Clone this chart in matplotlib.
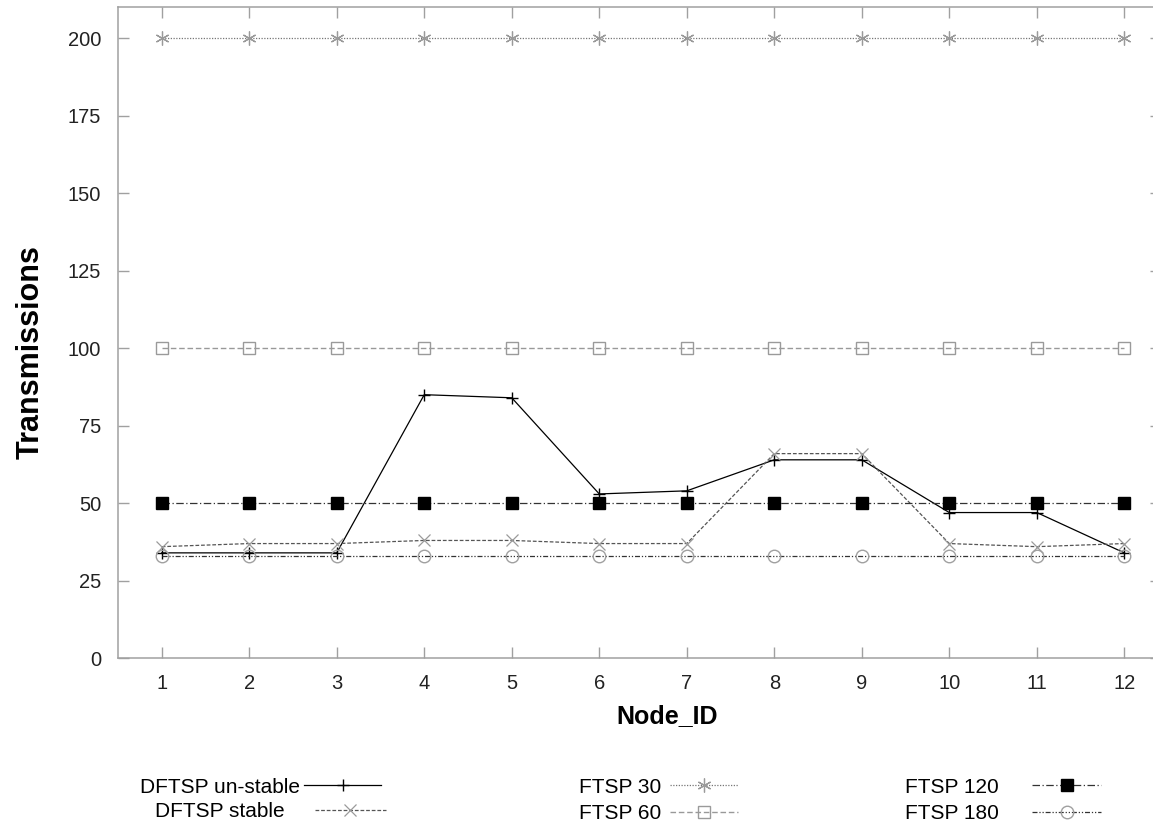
import matplotlib
matplotlib.use("Agg")
import matplotlib.pyplot as plt

plt.rcParams['font.family'] = ['Liberation Sans', 'DejaVu Sans']

# data
node_ids = [1, 2, 3, 4, 5, 6, 7, 8, 9, 10, 11, 12]
dftsp_unstable = [34, 34, 34, 85, 84, 53, 54, 64, 64, 47, 47, 34]
dftsp_stable = [36, 37, 37, 38, 38, 37, 37, 66, 66, 37, 36, 37]
ftsp_30 = [200] * 12
ftsp_60 = [100] * 12
ftsp_120 = [50] * 12
ftsp_180 = [33] * 12
y_ticks = [0, 25, 50, 75, 100, 125, 150, 175, 200]

fig = plt.figure(figsize=(11.53, 8.23), dpi=100)
# axes run a little past the right edge, like the cropped original
ax = fig.add_axes([0.1023, 0.2001, 0.9047, 0.7914])

l1, = ax.plot(node_ids, dftsp_unstable, color='black', lw=0.9, marker='+',
              ms=9, mew=1.0, mec='black', label='DFTSP un-stable')
l2, = ax.plot(node_ids, dftsp_stable, color='#555555', lw=0.9, ls=(0, (3, 1.5)),
              marker='x', ms=9, mew=0.9, mec='#9a9a9a', label='DFTSP stable')
l3, = ax.plot(node_ids, ftsp_30, color='#777777', lw=0.9, ls=(0, (1, 1.2)),
              marker=(6, 2, 0), ms=10, mew=0.9, mec='#9a9a9a', label='FTSP 30')
l4, = ax.plot(node_ids, ftsp_60, color='#999999', lw=1.0, ls=(0, (4, 2)),
              marker='s', ms=9, mfc='none', mew=1.0, mec='#9a9a9a', label='FTSP 60')
l5, = ax.plot(node_ids, ftsp_120, color='#333333', lw=0.9, ls=(0, (6, 2, 1, 2)),
              marker='s', ms=9, mfc='black', mec='black', label='FTSP 120')
l6, = ax.plot(node_ids, ftsp_180, color='#333333', lw=0.9, ls=(0, (4, 1.5, 1, 1.5, 1, 1.5)),
              marker='o', ms=9, mfc='none', mew=1.0, mec='#a0a0a0', label='FTSP 180')

ax.set_xlim(0.5, 12.42)
ax.set_ylim(0, 210)
ax.set_xticks(node_ids)
ax.set_yticks(y_ticks)

for s in ax.spines.values():
    s.set_color('#a0a0a0')
    s.set_linewidth(1.1)
ax.tick_params(direction='in', length=8, width=1.0, color='#a0a0a0',
               top=True, right=True, labelsize=14.5, labelcolor='#222222')
ax.tick_params(axis='y', pad=12)
ax.tick_params(axis='x', pad=11)

ax.set_xlabel('Node_ID', fontsize=18, fontweight='bold')
ax.xaxis.set_label_coords(0.526, -0.07)
ax.set_ylabel('Transmissions', fontsize=22, fontweight='bold')
ax.yaxis.set_label_coords(-0.069, 0.47)

leg_kw = dict(frameon=False, markerfirst=False, fontsize=15, borderpad=0,
              borderaxespad=0, labelspacing=0.35, loc='upper left')
fig.legend(handles=[l1], handlelength=3.7, handletextpad=0.2,
           bbox_to_anchor=(140 / 1153, 0.055), **leg_kw)
fig.legend(handles=[l2], handlelength=3.4, handletextpad=1.45,
           bbox_to_anchor=(155 / 1153, 0.025), **leg_kw)
fig.legend(handles=[l3, l4], handlelength=3.3, handletextpad=0.4,
           bbox_to_anchor=(579 / 1153, 0.055), **leg_kw)
fig.legend(handles=[l5, l6], handlelength=3.3, handletextpad=1.6,
           bbox_to_anchor=(905 / 1153, 0.055), **leg_kw)

fig.savefig('out.png', dpi=100)
